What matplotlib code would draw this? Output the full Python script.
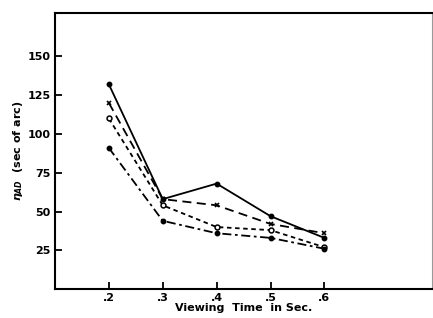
import matplotlib
matplotlib.use("Agg")
import matplotlib.pyplot as plt

viewing_time = [0.2, 0.3, 0.4, 0.5, 0.6]
solid_vals = [132, 58, 68, 47, 33]
cross_vals = [120, 58, 54, 42, 36]
open_vals = [110, 54, 40, 38, 27]
dot_vals = [91, 44, 36, 33, 26]

y_ticks = [25, 50, 75, 100, 125, 150]
x_ticks = [0.2, 0.3, 0.4, 0.5, 0.6]
x_tick_labels = [".2", ".3", ".4", ".5", ".6"]

plt.rcParams["font.family"] = ["DejaVu Sans"]
plt.rcParams["font.weight"] = "bold"

fig = plt.figure(figsize=(4.33, 3.18), dpi=100)
ax = fig.add_axes([0.127, 0.091, 0.871, 0.868])

ax.plot(viewing_time, solid_vals, "-", color="black", lw=1.3,
        marker="o", ms=3.2, mfc="black")
ax.plot(viewing_time, cross_vals, "--", color="black", lw=1.3,
        dashes=(5, 3), marker="x", ms=3.5, mew=1.2)
ax.plot(viewing_time, open_vals, "--", color="black", lw=1.3,
        dashes=(2.5, 2), marker="o", ms=3.5, mfc="white", mew=1.1)
ax.plot(viewing_time, dot_vals, "-.", color="black", lw=1.3,
        dashes=(5, 2, 1.5, 2), marker="o", ms=3.2, mfc="black")

ax.set_xlim(0.1, 0.8)
ax.set_ylim(0, 178)
ax.set_xticks(x_ticks)
ax.set_xticklabels(x_tick_labels)
ax.set_yticks(y_ticks)
ax.tick_params(direction="in", length=5, width=1.3, labelsize=8, pad=3)
for lab in ax.get_xticklabels() + ax.get_yticklabels():
    lab.set_fontweight("bold")

for side in ["left", "bottom", "top"]:
    ax.spines[side].set_linewidth(1.5)
ax.spines["right"].set_linewidth(0.8)
ax.spines["right"].set_color("#999999")

ax.set_xlabel("Viewing  Time  in Sec.", fontsize=8, fontweight="bold", labelpad=0)
ax.set_ylabel(r"$\eta_{AD}$  (sec of arc)", fontsize=8, fontweight="bold", labelpad=2)

fig.savefig("out.png", dpi=100)
